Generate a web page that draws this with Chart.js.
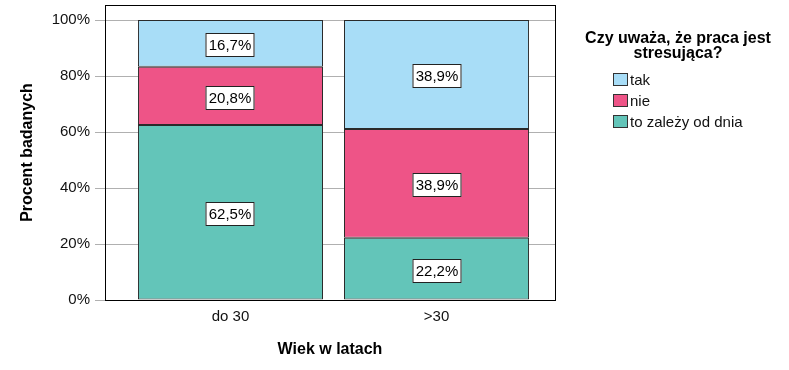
<!DOCTYPE html>
<html>
<head>
<meta charset="utf-8">
<script src="https://cdn.jsdelivr.net/npm/chart.js@4"></script>
<style>
  html, body { margin: 0; padding: 0; background: #fff; }
  #wrap { width: 789px; height: 370px; }
</style>
</head>
<body>
<div id="wrap"><canvas id="chart" width="789" height="370"></canvas></div>
<script>
// values
const CATEGORIES = ['do 30', '>30'];
const SERIES_NAMES = ['to zależy od dnia', 'nie', 'tak'];   // bottom -> top
const ZALEZY = [62.5, 22.2];
const NIE = [20.8, 38.9];
const TAK = [16.7, 38.9];
const Y_TICKS = [0, 20, 40, 60, 80, 100];

const COLORS = ['#63c5b9', '#ee5487', '#a8ddf7'];
const EDGE = '#2a2a2a';
const FONT = '"Liberation Sans", Arial, sans-serif';
const TEXT = '#111';

Chart.defaults.font.family = FONT;
Chart.defaults.color = TEXT;

const fmt = v => v.toFixed(1).replace('.', ',') + '%';

// white boxed value labels in the middle of each segment
const valueLabels = {
    id: 'valueLabels',
    afterDatasetsDraw(chart) {
        const ctx = chart.ctx;
        ctx.save();
        ctx.font = '15px ' + FONT;
        ctx.textAlign = 'center';
        ctx.textBaseline = 'middle';
        chart.data.datasets.forEach((ds, di) => {
            chart.getDatasetMeta(di).data.forEach((bar, i) => {
                const txt = fmt(ds.data[i].y);
                const w = Math.round(ctx.measureText(txt).width) + 6;
                const h = 24;
                const cx = Math.round(bar.x);
                const cy = Math.round((bar.y + bar.base) / 2) + 2;
                ctx.fillStyle = '#fff';
                ctx.fillRect(cx - w / 2, cy - h / 2, w, h);
                ctx.strokeStyle = '#222';
                ctx.lineWidth = 1;
                ctx.strokeRect(cx - w / 2 + 0.5, cy - h / 2 + 0.5, w - 1, h - 1);
                ctx.fillStyle = '#000';
                ctx.fillText(txt, cx, cy + 1);
            });
        });
        ctx.restore();
    }
};

// black frame round the plot area
const frame = {
    id: 'frame',
    afterDatasetsDraw(chart) {
        const { left, top, right, bottom } = chart.chartArea;
        const ctx = chart.ctx;
        ctx.save();
        ctx.strokeStyle = '#000';
        ctx.lineWidth = 1;
        ctx.strokeRect(Math.round(left) + 0.5, Math.round(top) + 0.5, Math.round(right - left), Math.round(bottom - top));
        ctx.restore();
    }
};

// legend with two-line title, on the right
const sideLegend = {
    id: 'sideLegend',
    afterDraw(chart) {
        const ctx = chart.ctx;
        ctx.save();
        ctx.fillStyle = '#000';
        ctx.font = 'bold 16px ' + FONT;
        ctx.textAlign = 'center';
        ctx.textBaseline = 'alphabetic';
        ctx.fillText('Czy uważa, że praca jest', 678, 43);
        ctx.fillText('stresująca?', 678, 58);
        ctx.font = '15px ' + FONT;
        ctx.textAlign = 'left';
        const items = chart.data.datasets.slice().reverse();
        items.forEach((ds, i) => {
            const y = 73 + i * 21;
            ctx.fillStyle = ds.backgroundColor;
            ctx.fillRect(613, y, 15, 13);
            ctx.strokeStyle = '#333';
            ctx.strokeRect(613.5, y + 0.5, 14, 12);
            ctx.fillStyle = TEXT;
            ctx.fillText(ds.label, 630, y + 12);
        });
        ctx.restore();
    }
};

new Chart(document.getElementById('chart'), {
    type: 'bar',
    data: {
        datasets: [ZALEZY, NIE, TAK].map((vals, k) => ({
            label: SERIES_NAMES[k],
            data: vals.map((v, i) => ({ x: i, y: v })),
            backgroundColor: COLORS[k],
            borderColor: EDGE,
            borderWidth: 1,
            borderSkipped: false,
            barPercentage: 0.898,
            categoryPercentage: 1
        }))
    },
    options: {
        responsive: false,
        animation: false,
        layout: { padding: { top: 5, right: 234, left: 0, bottom: 0 } },
        plugins: { legend: { display: false }, tooltip: { enabled: false } },
        scales: {
            x: {
                type: 'linear', stacked: true, offset: false,
                min: -0.609, max: 1.575,
                afterBuildTicks: s => { s.ticks = CATEGORIES.map((_, i) => ({ value: i })); },
                afterFit: s => { s.height = 70; s.paddingLeft = 0; s.paddingRight = 0; },
                grid: { display: false, drawTicks: false, offset: false },
                border: { display: false },
                ticks: { padding: 8, color: TEXT, font: { size: 15 }, maxRotation: 0, callback: v => CATEGORIES[v] },
                title: { display: true, text: 'Wiek w latach', color: '#000', font: { size: 16, weight: 'bold' }, padding: { top: 0, bottom: 11 } }
            },
            y: {
                stacked: true,
                min: 0, max: 105.36,
                afterBuildTicks: s => { s.ticks = Y_TICKS.map(v => ({ value: v })); },
                afterFit: s => { s.width = 105; s.paddingTop = 0; s.paddingBottom = 0; },
                grid: { color: '#b0b0b0', lineWidth: 1, drawTicks: true, tickLength: 10 },
                border: { display: false },
                ticks: { padding: 5, color: TEXT, font: { size: 15 }, callback: v => v + '%' },
                title: { display: true, text: 'Procent badanych', color: '#000', font: { size: 16, weight: 'bold' }, padding: { top: 18, bottom: 0 } }
            }
        }
    },
    plugins: [valueLabels, frame, sideLegend]
});
</script>
</body>
</html>
